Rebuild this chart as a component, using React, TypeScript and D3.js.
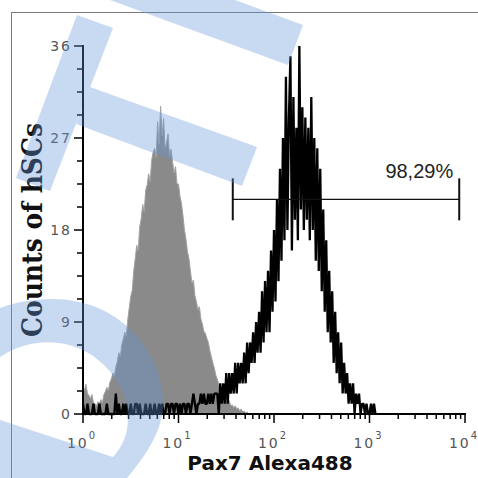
import React from 'react'
import * as d3 from 'd3'

// histogram channels: 64 per decade, starting at 10^0
const BINS_PER_DECADE = 64

// isotype control (grey, filled)
const controlCounts = [
  2.7, 2.3, 2.9, 2.0, 1.8, 1.5, 1.9, 1.1, 1.0, 0.8, 1.2, 1.0, 1.4, 1.1, 1.9, 2.2,
  2.6, 2.3, 3.1, 3.4, 4.0, 3.7, 4.6, 5.1, 6.0, 5.6, 6.8, 7.3, 8.0, 7.6, 9.2, 10.4,
  11.5, 12.1, 14.0, 15.2, 16.5, 16.0, 18.3, 19.1, 20.5, 19.8, 21.9, 22.4, 23.5, 22.7, 24.8, 25.6,
  26.0, 25.1, 28.6, 26.4, 30.1, 27.2, 28.9, 26.0, 26.5, 27.4, 25.2, 25.9, 24.7, 23.6, 24.2, 22.5,
  22.5, 21.3, 20.6, 19.4, 18.0, 17.1, 15.9, 15.2, 14.0, 12.8, 13.1, 11.6, 11.0, 10.2, 10.5, 9.3,
  8.8, 8.1, 7.9, 7.4, 7.0, 6.2, 5.6, 5.0, 4.5, 3.8, 3.4, 2.9, 2.5, 2.1, 2.3, 1.6,
  1.5, 1.1, 1.3, 0.8, 0.9, 0.6, 0.8, 0.5, 0.6, 0.3, 0.5, 0.2, 0.3, 0.1, 0.2, 0
]

// Pax7 stained (black line)
const pax7Counts = [
  1, 0, 0, 1, 0, 0, 0, 1, 0, 0,
  0, 1, 0, 0, 0, 0, 1, 0, 0, 0,
  0, 0, 2, 0, 1, 0, 0, 1, 0, 1,
  0, 0, 1, 0, 0, 1, 1, 0, 1, 0,
  0, 0, 1, 0, 0, 1, 0, 0, 1, 0,
  0, 1, 0, 1, 0, 0, 1, 1, 0, 1,
  1, 0, 1, 1, 0, 1, 0, 1, 1, 0,
  1, 1, 0, 1, 2, 1, 0, 1, 1, 2,
  1, 2, 1, 1, 2, 1, 2, 1, 2, 2,
  2, 0, 3, 1, 3, 1, 4, 1, 4, 2,
  4, 2, 5, 2, 5, 3, 5, 3, 6, 3,
  7, 4, 7, 5, 8, 5, 9, 6, 10, 6,
  12, 7, 13, 8, 14, 8, 16, 10, 18, 11,
  21, 13, 24, 15, 27, 17, 33, 18, 29, 35,
  16, 31, 19, 28, 17, 36, 20, 30, 18, 29,
  19, 28, 17, 31, 18, 27, 15, 26, 14, 24,
  12, 20, 10, 17, 8, 14, 7, 12, 5, 10,
  4, 8, 3, 7, 2, 5, 2, 4, 1, 3,
  1, 3, 0, 2, 1, 2, 0, 1, 1, 0,
  1, 0, 0, 1, 0, 1, 0
]

const yTicks = [0, 9, 18, 27, 36]
const yMinorStep = 2.25
const xDecades = [0, 1, 2, 3, 4]
const gateRange = [37, 8700]
const gateLevel = 21
const gateLabel = '98,29%'
const xTitle = 'Pax7 Alexa488'
const yTitle = 'Counts of hSCs'

const W = 478
const H = 478

const App = () => {
  const x = d3.scaleLog().domain([1, 10000]).range([83, 465])
  const y = d3.scaleLinear().domain([0, 36]).range([414, 46])

  const toPts = (arr: number[]) => arr.map((c, i) => [Math.pow(10, i / BINS_PER_DECADE), c] as [number, number])
  const ctrl = toPts(controlCounts)
  const pax = toPts(pax7Counts)

  const area = d3.area<[number, number]>().x(d => x(d[0])).y0(y(0)).y1(d => y(d[1]))
  const line = d3.line<[number, number]>().x(d => x(d[0])).y(d => y(d[1]))

  const minorY = d3.range(0, 36 + 0.01, yMinorStep).filter(v => !yTicks.includes(v))
  const minorX: number[] = []
  for (let k = 0; k < 4; k++) for (let m = 2; m <= 9; m++) minorX.push(m * Math.pow(10, k))

  const gy = y(gateLevel)

  return (
    <svg width={W} height={H} style={{ position: 'absolute', left: 0, top: 0, display: 'block', background: '#fff' }}>
      <rect x={11.5} y={12.5} width={600} height={600} fill="none" stroke="#7a7a7a" strokeWidth={1} />

      {/* control histogram */}
      <path d={area(ctrl) || ''} fill="#8a8a8a" />
      <path d={line(ctrl) || ''} fill="none" stroke="#a2a2a2" strokeWidth={1} />

      {/* Pax7 histogram */}
      <path d={line(pax) || ''} fill="none" stroke="#000" strokeWidth={2.3} strokeLinejoin="bevel" />

      {/* y axis */}
      <line x1={83} x2={83} y1={y(36) - 1} y2={y(0) + 1} stroke="#000" strokeWidth={2} />
      {yTicks.map(t => (
        <g key={'yt' + t}>
          <line x1={74} x2={83} y1={y(t)} y2={y(t)} stroke="#000" strokeWidth={1.5} />
          <text x={72} y={y(t)} dy="0.36em" textAnchor="end" fontFamily="DejaVu Sans" fontSize={14}
            letterSpacing={2} fill="#555">{t}</text>
        </g>
      ))}
      {minorY.map(t => (
        <line key={'ym' + t} x1={77} x2={83} y1={y(t)} y2={y(t)} stroke="#000" strokeWidth={1.5} />
      ))}

      {/* x axis */}
      <line x1={82} x2={466} y1={414} y2={414} stroke="#000" strokeWidth={2} />
      {xDecades.map(k => (
        <g key={'xt' + k}>
          <line x1={x(Math.pow(10, k))} x2={x(Math.pow(10, k))} y1={414} y2={423} stroke="#000" strokeWidth={1.5} />
          <text x={x(Math.pow(10, k)) - 1} y={448} textAnchor="middle" fontFamily="DejaVu Sans" fontSize={14}
            letterSpacing={2} fill="#555">
            10<tspan dy={-9} fontSize={10}>{k}</tspan>
          </text>
        </g>
      ))}
      {minorX.map(v => (
        <line key={'xm' + v} x1={x(v)} x2={x(v)} y1={414} y2={419} stroke="#000" strokeWidth={1.5} />
      ))}

      {/* gate */}
      <line x1={x(gateRange[0])} x2={x(gateRange[1])} y1={gy} y2={gy} stroke="#111" strokeWidth={1.3} />
      <line x1={x(gateRange[0])} x2={x(gateRange[0])} y1={gy - 21} y2={gy + 21} stroke="#111" strokeWidth={2} />
      <line x1={x(gateRange[1])} x2={x(gateRange[1])} y1={gy - 21} y2={gy + 21} stroke="#111" strokeWidth={2} />
      <text x={x(gateRange[1]) - 6} y={gy - 21} textAnchor="end" fontFamily="Liberation Sans" fontSize={20}
        fill="#222">{gateLabel}</text>

      {/* titles */}
      <text x={270} y={470} textAnchor="middle" fontFamily="DejaVu Sans" fontWeight="bold" fontSize={20}
        fill="#111">{xTitle}</text>
      <text transform="translate(42,230) rotate(-90)" textAnchor="middle" fontFamily="DejaVu Serif"
        fontWeight="bold" fontSize={28} textLength={214} lengthAdjust="spacingAndGlyphs" fill="#111">{yTitle}</text>

      {/* watermark */}
      <g opacity={0.35} fill="rgb(100,150,220)">
        <path d="M110,0 L235,0 L303,25 L288,65 Z" />
        <path d="M77,15 L113,28 L50,191 L16,178 Z" />
        <path d="M90,87 L257,147 L242,186 L76,124 Z" />
        <path fillRule="evenodd"
          d="M0,308 C30,297 75,293 110,314 C140,332 160,362 163,397 C165,420 155,445 127,478 L0,478 Z
             M0,357 C25,340 60,336 90,354 C115,370 128,395 128,418 C128,435 122,447 113,457 L0,420 Z" />
      </g>
    </svg>
  )
}

export default App
